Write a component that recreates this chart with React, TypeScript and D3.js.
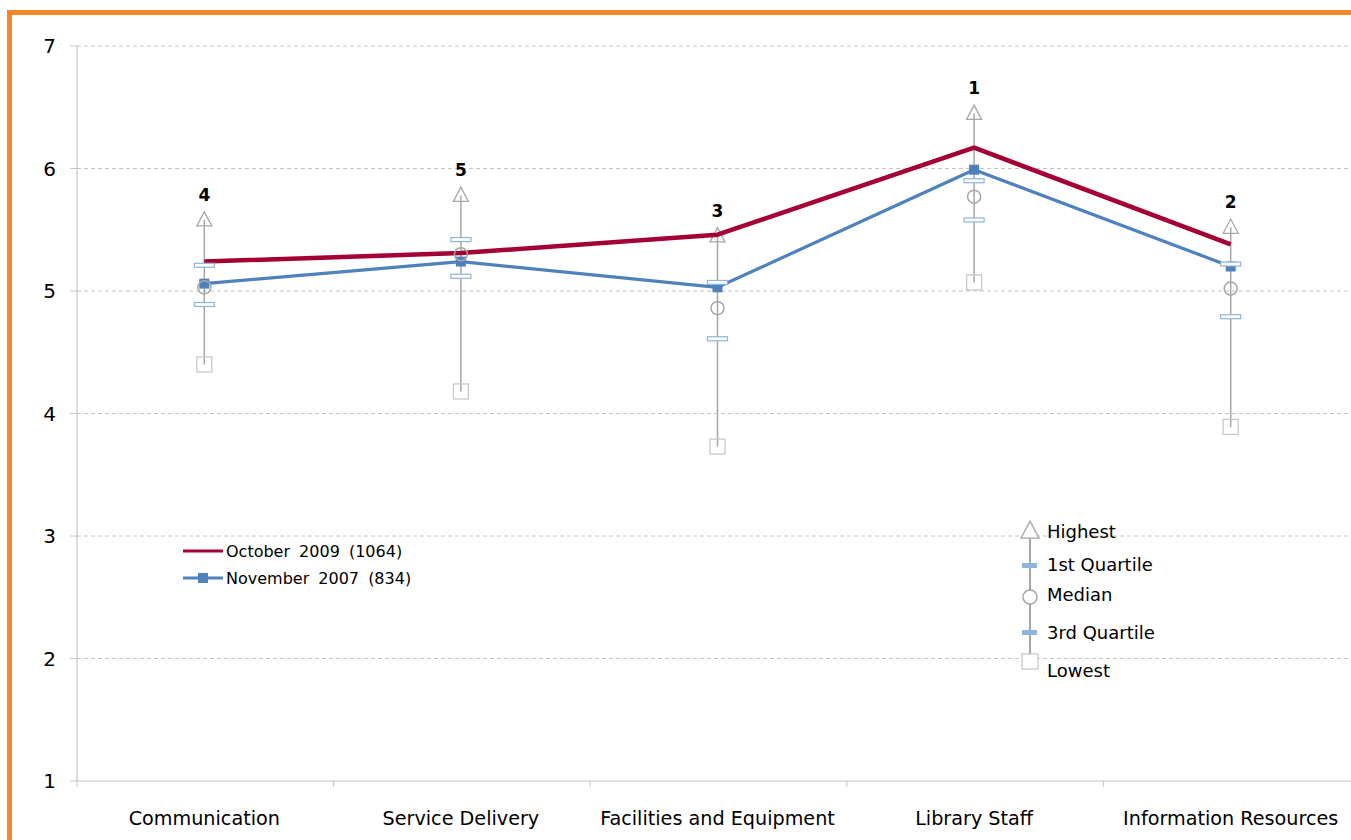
import * as d3 from "d3";
import React from "react";

const categories = ["Communication", "Service Delivery", "Facilities and Equipment", "Library Staff", "Information Resources"];
const oct2009 = [5.24, 5.31, 5.46, 6.17, 5.38];
const nov2007 = [5.06, 5.24, 5.03, 5.99, 5.2];
const highest = [5.58, 5.78, 5.45, 6.45, 5.52];
const quartile1 = [5.21, 5.42, 5.07, 5.9, 5.22];
const median = [5.03, 5.3, 4.86, 5.77, 5.02];
const quartile3 = [4.89, 5.12, 4.61, 5.58, 4.79];
const lowest = [4.4, 4.18, 3.73, 5.07, 3.89];
const ranks = ["4", "5", "3", "1", "2"];
const yTicks = [1, 2, 3, 4, 5, 6, 7];

const W = 1351;
const H = 840;
const margin = { top: 46, bottom: 59, left: 77, right: -9 };
const font = "Tahoma, 'DejaVu Sans', Verdana, sans-serif";

const RED = "#a50034";
const BLUE = "#4f81bd";
const GREY = "#a6a6a6";
const QBLUE = "#8db4d9";

export default function App() {
  const x = d3.scaleBand<string>().domain(categories).range([margin.left, W - margin.right]).padding(0);
  const y = d3.scaleLinear().domain([1, 7]).range([H - margin.bottom, margin.top]);
  const cx = (c: string) => (x(c) as number) + x.bandwidth() / 2 - 1;

  const line = d3.line<number>().x((_, i) => cx(categories[i])).y(d => y(d));

  const tri = (px: number, py: number, s = 15) =>
    `M${px},${py - s * 0.55} L${px + s / 2},${py + s * 0.4} L${px - s / 2},${py + s * 0.4} Z`;

  const x0 = margin.left;
  const x1 = W - margin.right;

  return (
    <svg width={W} height={H} style={{ position: "absolute", left: 0, top: 0, background: "#fff" }} fontFamily={font}>
      {/* frame */}
      <path d={`M9.5,${H} L9.5,12.5 L${W},12.5`} fill="none" stroke="#f7862b" strokeWidth={5} />

      {/* grid */}
      {yTicks.filter(t => t > 1).map(t => (
        <line key={t} x1={x0} x2={x1} y1={y(t)} y2={y(t)} stroke="#c4c4c4" strokeDasharray="4,3" />
      ))}
      <line x1={x0} x2={x0} y1={y(7)} y2={y(1)} stroke="#c4c4c4" strokeWidth={1.2} />
      <line x1={x0} x2={x1} y1={y(1)} y2={y(1)} stroke="#c4c4c4" strokeWidth={1.2} />
      {yTicks.map(t => (
        <g key={t}>
          <line x1={x0 - 7} x2={x0} y1={y(t)} y2={y(t)} stroke="#c4c4c4" />
          <text x={56} y={y(t) + 7} textAnchor="end" fontSize={20} fill="#000">{t}</text>
        </g>
      ))}
      {categories.map(c => (
        <line key={c} x1={x(c)} x2={x(c)} y1={y(1)} y2={y(1) + 6} stroke="#c4c4c4" />
      ))}
      {categories.map(c => (
        <text key={c} x={cx(c)} y={825} textAnchor="middle" fontSize={19.2} fill="#000">{c}</text>
      ))}

      {/* high-low ranges */}
      {categories.map((c, i) => (
        <g key={c}>
          <line x1={cx(c)} x2={cx(c)} y1={y(highest[i])} y2={y(lowest[i])} stroke={GREY} strokeWidth={1.5} />
          <path d={tri(cx(c), y(highest[i]))} fill="none" stroke={GREY} strokeWidth={1.3} />
          <rect x={cx(c) - 7.5} y={y(lowest[i]) - 7.5} width={15} height={15} fill="none" stroke="#c8c8c8" strokeWidth={1.3} />
          <text x={cx(c)} y={y(highest[i]) - 19} textAnchor="middle" fontSize={17} fontWeight="bold" fill="#000">{ranks[i]}</text>
        </g>
      ))}

      {/* series */}
      <path d={line(oct2009) as string} fill="none" stroke={RED} strokeWidth={4.5} strokeLinejoin="round" />
      <path d={line(nov2007) as string} fill="none" stroke={BLUE} strokeWidth={3.2} strokeLinejoin="round" />
      {categories.map((c, i) => (
        <rect key={c} x={cx(c) - 5} y={y(nov2007[i]) - 5} width={10} height={10} fill={BLUE} />
      ))}

      {/* quartiles and median */}
      {categories.map((c, i) => (
        <g key={c}>
          <rect x={cx(c) - 10} y={y(quartile1[i]) - 2} width={20} height={4} fill="#fff" stroke={QBLUE} strokeWidth={1.2} />
          <rect x={cx(c) - 10} y={y(quartile3[i]) - 2} width={20} height={4} fill="#fff" stroke={QBLUE} strokeWidth={1.2} />
          <circle cx={cx(c)} cy={y(median[i])} r={6.5} fill="none" stroke={GREY} strokeWidth={1.5} />
        </g>
      ))}

      {/* series legend */}
      <g fontSize={16} fill="#000" wordSpacing={4}>
        <line x1={183} x2={223} y1={551} y2={551} stroke={RED} strokeWidth={3} />
        <text x={226} y={557}>October 2009 (1064)</text>
        <line x1={183} x2={223} y1={578} y2={578} stroke={BLUE} strokeWidth={3} />
        <rect x={198} y={573} width={10} height={10} fill={BLUE} />
        <text x={226} y={584}>November 2007 (834)</text>
      </g>

      {/* marker legend */}
      <g fontSize={18} fill="#000">
        <line x1={1030} x2={1030} y1={532} y2={661} stroke={GREY} strokeWidth={2} />
        <path d={tri(1030, 531, 18)} fill="#fff" stroke={GREY} strokeWidth={1.3} />
        <rect x={1022} y={563} width={15} height={5} fill={QBLUE} />
        <circle cx={1030} cy={597} r={7} fill="#fff" stroke={GREY} strokeWidth={1.5} />
        <rect x={1022} y={630} width={15} height={5} fill={QBLUE} />
        <rect x={1022} y={654} width={16} height={15} fill="#fff" stroke="#c8c8c8" strokeWidth={1.3} />
        <text x={1047} y={538}>Highest</text>
        <text x={1047} y={571}>1st Quartile</text>
        <text x={1047} y={601}>Median</text>
        <text x={1047} y={639}>3rd Quartile</text>
        <text x={1047} y={677}>Lowest</text>
      </g>
    </svg>
  );
}
